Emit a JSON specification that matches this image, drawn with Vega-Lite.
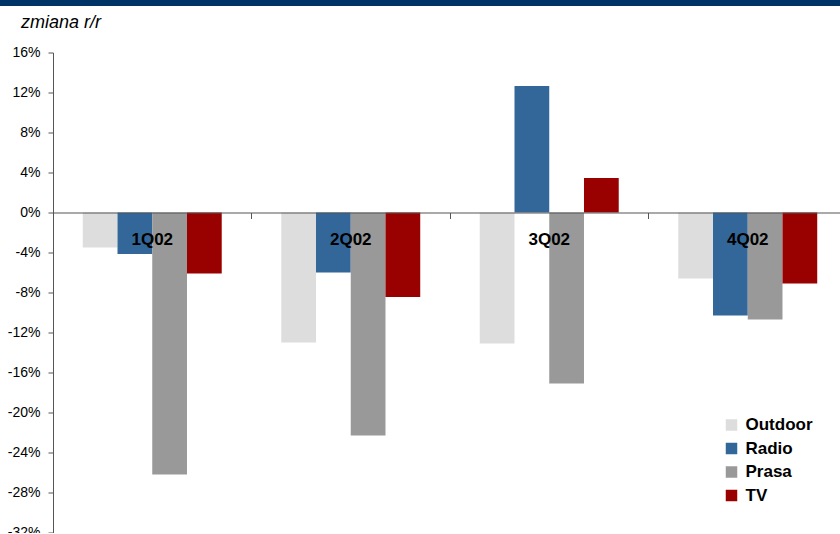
{
  "$schema": "https://vega.github.io/schema/vega-lite/v6.json",
  "width": 794,
  "height": 480,
  "autosize": {"type": "none"},
  "padding": {"left": 53, "top": 52.5, "right": 0, "bottom": 0},
  "background": "white",
  "config": {
    "view": {"stroke": null},
    "font": "Liberation Sans",
    "axisY": {
      "labelOverlap": false,
      "tickSize": 5,
      "labelPadding": 8,
      "labelFontSize": 14,
      "labelColor": "black",
      "labelFont": "Liberation Sans",
      "domainColor": "#555555",
      "tickColor": "#555555",
      "grid": false,
      "titleAngle": 0,
      "titleX": -32.5,
      "titleY": -25.5,
      "titleAlign": "left",
      "titleBaseline": "alphabetic",
      "titleFont": "Liberation Sans",
      "titleFontStyle": "italic",
      "titleFontWeight": "normal",
      "titleFontSize": 18,
      "titleColor": "black"
    }
  },
  "datasets": {
    "bars": [
      {"q": "1Q02", "s": "Outdoor", "v": -3.5},
      {"q": "1Q02", "s": "Radio", "v": -4.15},
      {"q": "1Q02", "s": "Prasa", "v": -26.2},
      {"q": "1Q02", "s": "TV", "v": -6.1},
      {"q": "2Q02", "s": "Outdoor", "v": -13.0},
      {"q": "2Q02", "s": "Radio", "v": -6.0},
      {"q": "2Q02", "s": "Prasa", "v": -22.3},
      {"q": "2Q02", "s": "TV", "v": -8.45},
      {"q": "3Q02", "s": "Outdoor", "v": -13.1},
      {"q": "3Q02", "s": "Radio", "v": 12.65},
      {"q": "3Q02", "s": "Prasa", "v": -17.1},
      {"q": "3Q02", "s": "TV", "v": 3.45},
      {"q": "4Q02", "s": "Outdoor", "v": -6.6},
      {"q": "4Q02", "s": "Radio", "v": -10.3},
      {"q": "4Q02", "s": "Prasa", "v": -10.7},
      {"q": "4Q02", "s": "TV", "v": -7.1}
    ]
  },
  "layer": [
    {
      "data": {"name": "bars"},
      "mark": {"type": "bar"},
      "encoding": {
        "x": {
          "field": "q",
          "type": "nominal",
          "sort": null,
          "scale": {"paddingInner": 0, "paddingOuter": 0},
          "axis": {
            "orient": "bottom",
            "offset": -320,
            "title": null,
            "domainColor": "#555555",
            "tickColor": "#555555",
            "tickSize": 6,
            "bandPosition": 0,
            "labelOffset": 0,
            "labelPadding": 13,
            "labelFontSize": 17,
            "labelFontWeight": "bold",
            "labelColor": "black",
            "labelBaseline": "top",
            "labelAngle": 0,
            "labelFont": "Liberation Sans",
            "labelOverlap": false,
            "zindex": 1
          }
        },
        "xOffset": {
          "field": "s",
          "sort": ["Outdoor", "Radio", "Prasa", "TV"],
          "scale": {"paddingInner": 0, "paddingOuter": 0.857}
        },
        "y": {
          "field": "v",
          "type": "quantitative",
          "title": "zmiana r/r",
          "scale": {"domain": [-32, 16], "nice": false, "zero": false},
          "axis": {
            "values": [-32, -28, -24, -20, -16, -12, -8, -4, 0, 4, 8, 12, 16],
            "labelExpr": "datum.value + '%'",
            "labelOverlap": false
          }
        },
        "color": {
          "field": "s",
          "type": "nominal",
          "scale": {
            "domain": ["Outdoor", "Radio", "Prasa", "TV"],
            "range": ["#DDDDDD", "#336699", "#999999", "#990000"]
          },
          "legend": {
            "orient": "none",
            "legendX": 670,
            "legendY": 364,
            "title": null,
            "symbolType": "square",
            "symbolSize": 132,
            "symbolStrokeWidth": 0,
            "symbolOpacity": 1,
            "labelFontSize": 17,
            "labelFontWeight": "bold",
            "labelColor": "black",
            "labelFont": "Liberation Sans",
            "rowPadding": 5.5,
            "labelOffset": 5.5
          }
        }
      }
    },
    {
      "data": {"values": [{"k": 1}]},
      "mark": {"type": "rect", "color": "#003366"},
      "encoding": {
        "x": {"datum": -0.1, "type": "quantitative", "scale": {"domain": [0, 1], "nice": false, "zero": false}, "axis": null},
        "x2": {"datum": 1},
        "y": {
          "datum": 21.6,
          "type": "quantitative",
          "title": "zmiana r/r",
          "axis": {
            "values": [-32, -28, -24, -20, -16, -12, -8, -4, 0, 4, 8, 12, 16],
            "labelExpr": "datum.value + '%'",
            "labelOverlap": false
          }
        },
        "y2": {"datum": 20.65}
      }
    }
  ],
  "resolve": {"scale": {"x": "independent"}}
}
